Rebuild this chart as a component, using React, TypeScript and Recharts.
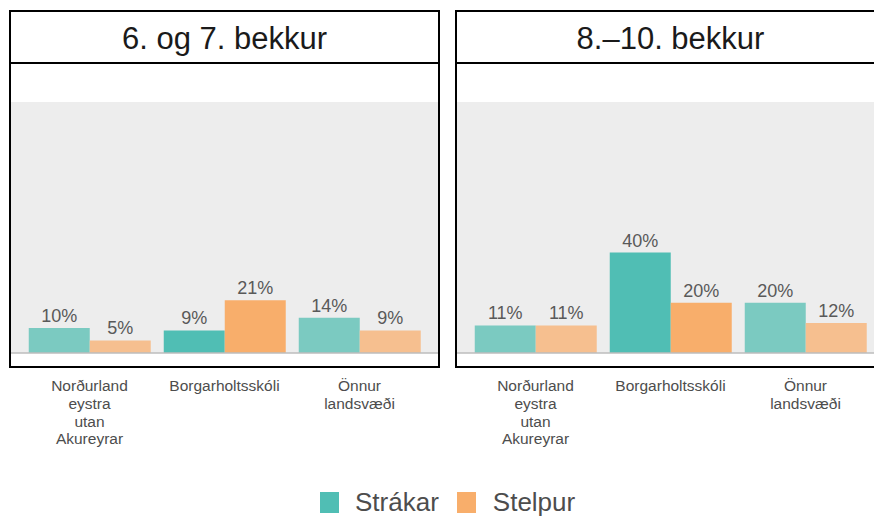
import { BarChart, Bar, XAxis, YAxis, CartesianGrid, LabelList, Cell } from 'recharts'

const categories = ['Norðurland eystra utan Akureyrar', 'Borgarholtsskóli', 'Önnur landsvæði']
const tickLines = [['Norðurland', 'eystra', 'utan', 'Akureyrar'], ['Borgarholtsskóli'], ['Önnur', 'landsvæði']]
const panelTitles = ['6. og 7. bekkur', '8.–10. bekkur']
const strakar67 = [10, 9, 14]
const stelpur67 = [5, 21, 9]
const strakar810 = [11, 40, 20]
const stelpur810 = [11, 20, 12]
const highlighted = 'Borgarholtsskóli'

const TEAL = '#50beb4'
const TEAL_LIGHT = '#7bcac1'
const ORANGE = '#f8ae6b'
const ORANGE_LIGHT = '#f6bf8f'
const FONT = 'Arial, "Liberation Sans", sans-serif'

function buildRows(boys: number[], girls: number[]) {
  return categories.map((c, i) => ({ category: c, boys: boys[i], girls: girls[i] }))
}

const CategoryTick = (props: any) => {
  const { x, y, index } = props
  const lines = tickLines[index] || []
  return (
    <text x={x} y={y} textAnchor="middle" fill="#4d4d4d" fontSize={15.5} fontFamily={FONT}>
      {lines.map((l, i) => (
        <tspan key={i} x={x} dy={i === 0 ? 30 : 17.8}>{l}</tspan>
      ))}
    </text>
  )
}

function Panel({ rows, left, title }: { rows: any[]; left: number; title: string }) {
  const width = 450
  return (
    <div style={{ position: 'absolute', left, top: 0, width, height: 470 }}>
      <div style={{
        position: 'absolute', left: 9, top: 10, width: 427, height: 50,
        border: '2px solid #000', borderBottom: 'none', background: '#fff',
        textAlign: 'center', fontSize: 31, lineHeight: '54px', color: '#1a1a1a', fontFamily: FONT,
      }}>{title}</div>
      <BarChart
        width={width}
        height={460}
        data={rows}
        margin={{ top: 102, left: 11, right: width - 438, bottom: 7 }}
        barCategoryGap="5%"
        barGap={0}
        style={{ position: 'absolute', left: 0, top: 0 }}
      >
        <CartesianGrid fill="#ededed" horizontal={false} vertical={false} />
        <YAxis hide domain={[0, 100]} />
        <XAxis
          dataKey="category"
          height={100}
          padding={{ left: 11, right: 11 }}
          tickLine={false}
          axisLine={{ stroke: '#bdbdbd', strokeWidth: 1.5 }}
          tick={<CategoryTick />}
          interval={0}
        />
        <Bar dataKey="boys" name="Strákar" isAnimationActive={false}>
          {rows.map((r, i) => (
            <Cell key={i} fill={r.category === highlighted ? TEAL : TEAL_LIGHT} />
          ))}
          <LabelList dataKey="boys" position="top" offset={6} formatter={(v: any) => `${v}%`}
            fill="#595959" fontSize={18} fontFamily={FONT} />
        </Bar>
        <Bar dataKey="girls" name="Stelpur" isAnimationActive={false}>
          {rows.map((r, i) => (
            <Cell key={i} fill={r.category === highlighted ? ORANGE : ORANGE_LIGHT} />
          ))}
          <LabelList dataKey="girls" position="top" offset={6} formatter={(v: any) => `${v}%`}
            fill="#595959" fontSize={18} fontFamily={FONT} />
        </Bar>
      </BarChart>
      <div style={{
        position: 'absolute', left: 9, top: 62, width: 427, height: 302,
        border: '2px solid #000', pointerEvents: 'none',
      }} />
    </div>
  )
}

export default function App() {
  return (
    <div style={{ position: 'fixed', left: 0, top: 0, width: 874, height: 517, overflow: 'hidden', background: '#fff', fontFamily: FONT }}>
      <Panel rows={buildRows(strakar67, stelpur67)} left={0} title={panelTitles[0]} />
      <Panel rows={buildRows(strakar810, stelpur810)} left={446} title={panelTitles[1]} />
      <div style={{ position: 'absolute', left: 320, top: 487, display: 'flex', alignItems: 'center', fontSize: 26, color: '#4d4d4d' }}>
        <span style={{ width: 19, height: 21, background: TEAL, display: 'inline-block', marginRight: 16 }} />
        <span style={{ marginRight: 18 }}>Strákar</span>
        <span style={{ width: 19, height: 21, background: ORANGE, display: 'inline-block', marginRight: 17 }} />
        <span>Stelpur</span>
      </div>
    </div>
  )
}
